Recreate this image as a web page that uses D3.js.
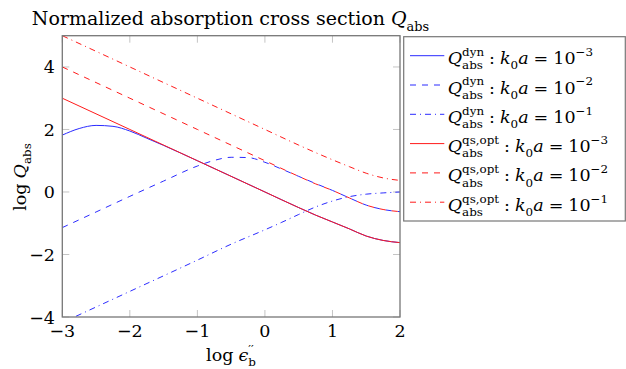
<!DOCTYPE html>
<html>
<head>
<meta charset="utf-8">
<script src="https://cdn.jsdelivr.net/npm/d3@7"></script>
<style>
  body { margin: 0; background: #fff; }
  svg { display: block; }
  text { white-space: pre; }
</style>
</head>
<body>
<svg id="chart" width="626" height="369"></svg>
<script>
"use strict";

// valeurs (log eps'' -> log Q)
var xTicks = [-3, -2, -1, 0, 1, 2];
var yTicks = [-4, -2, 0, 2, 4];

var xDynSolid = [-3, -2.75, -2.5, -2.25, -2, -1.75, -1.5, -1, 0, 0.5, 0.75, 1, 1.25, 1.5, 1.75, 2];
var yDynSolid = [1.82, 2.03, 2.13, 2.1, 1.95, 1.72, 1.49, 1.0, 0, -0.5, -0.74, -0.96, -1.18, -1.41, -1.55, -1.62];

var xDynDashed = [-3, -2.5, -2, -1.5, -1, -0.75, -0.5, -0.25, 0, 0.25, 0.5, 0.75, 1, 1.25, 1.5, 1.75, 2];
var yDynDashed = [-1.14, -0.64, -0.14, 0.35, 0.83, 1.01, 1.11, 1.1, 0.95, 0.73, 0.5, 0.27, 0.05, -0.19, -0.42, -0.56, -0.63];

var xDynDashdot = [-3, -2, -1, -0.5, 0, 0.25, 0.5, 0.75, 1, 1.25, 1.5, 1.75, 2];
var yDynDashdot = [-4.18, -3.18, -2.18, -1.67, -1.21, -0.97, -0.72, -0.48, -0.29, -0.15, -0.07, -0.03, 0.0];

var xQs = [-3, -2, -1, 0, 0.5, 0.75, 1, 1.25, 1.5, 1.75, 2];
var yQsSolid = [3, 2, 1, 0, -0.5, -0.74, -0.96, -1.18, -1.41, -1.55, -1.62];
var yQsDashed = [4, 3, 2, 1, 0.5, 0.26, 0.05, -0.19, -0.42, -0.56, -0.63];
var yQsDashdot = [5, 4, 3, 2, 1.5, 1.26, 1.03, 0.81, 0.6, 0.45, 0.37];

var legendSup = ["dyn", "dyn", "dyn", "qs,opt", "qs,opt", "qs,opt"];
var legendExp = ["−3", "−2", "−1", "−3", "−2", "−1"];

var blue = "#2b2bff", red = "#ff1a1a";
var dashes = { solid: null, dashed: "6,6", dashdot: "6,4,1,4" };

var series = [
  { xs: xDynSolid,   ys: yDynSolid,   color: blue, dash: "solid" },
  { xs: xDynDashed,  ys: yDynDashed,  color: blue, dash: "dashed" },
  { xs: xDynDashdot, ys: yDynDashdot, color: blue, dash: "dashdot" },
  { xs: xQs, ys: yQsSolid,   color: red, dash: "solid" },
  { xs: xQs, ys: yQsDashed,  color: red, dash: "dashed" },
  { xs: xQs, ys: yQsDashdot, color: red, dash: "dashdot" }
];

var FONT = "DejaVu Serif";
var svg = d3.select("#chart").attr("font-family", FONT);
var pLeft = 62.3, pRight = 400, pTop = 35.7, pBottom = 317;
var FS = 17.5;

var x = d3.scaleLinear().domain([-3, 2]).range([pLeft, pRight]);
var y = d3.scaleLinear().domain([-4, 5]).range([pBottom, pTop]);

/**
 * Ecrit une petite formule (italique, exposant, indice) et renvoie le groupe et sa largeur.
 */
function mathText(parent, pieces, size) {
  var g = parent.append("g");
  var cx = 0;
  pieces.forEach(function(p) {
    if (p.t) {
      var t = g.append("text").attr("x", cx).attr("y", 0).attr("font-family", FONT)
        .attr("font-size", size).attr("font-style", p.it ? "italic" : "normal").text(p.t);
      cx += t.node().getComputedTextLength();
    }
    if (p.sup || p.sub) {
      var w = 0;
      if (p.sup) {
        var s = g.append("text").attr("x", cx).attr("y", -0.46 * size).attr("font-family", FONT)
          .attr("font-size", size * 0.68).text(p.sup);
        w = Math.max(w, s.node().getComputedTextLength());
      }
      if (p.sub) {
        var b = g.append("text").attr("x", cx).attr("y", 0.3 * size).attr("font-family", FONT)
          .attr("font-size", size * 0.68).text(p.sub);
        w = Math.max(w, b.node().getComputedTextLength());
      }
      cx += w;
    }
    if (p.gap) cx += p.gap;
  });
  return { g: g, w: cx };
}

// titre
var title = mathText(svg, [{ t: "Normalized absorption cross section" }, { gap: 6 }, { t: "Q", it: true }, { sub: "abs" }], 19);
title.g.attr("transform", "translate(" + (230.5 - title.w / 2) + ",25)");

// zone de tracé
svg.append("clipPath").attr("id", "clip").append("rect")
  .attr("x", pLeft).attr("y", pTop).attr("width", pRight - pLeft).attr("height", pBottom - pTop);

var gTicks = svg.append("g").attr("stroke", "#c4c4c4").attr("stroke-width", 1);
var tl = 7;
xTicks.forEach(function(v) {
  gTicks.append("line").attr("x1", x(v)).attr("x2", x(v)).attr("y1", pBottom).attr("y2", pBottom - tl);
  gTicks.append("line").attr("x1", x(v)).attr("x2", x(v)).attr("y1", pTop).attr("y2", pTop + tl);
});
yTicks.forEach(function(v) {
  gTicks.append("line").attr("x1", pLeft).attr("x2", pLeft + tl).attr("y1", y(v)).attr("y2", y(v));
  gTicks.append("line").attr("x1", pRight).attr("x2", pRight - tl).attr("y1", y(v)).attr("y2", y(v));
});

svg.append("g").selectAll("text").data(xTicks).enter().append("text")
  .attr("x", d => x(d)).attr("y", 337).attr("text-anchor", "middle").attr("font-size", FS)
  .attr("font-family", FONT)
  .text(d => d < 0 ? "−" + Math.abs(d) : d);
svg.append("g").selectAll("text").data(yTicks).enter().append("text")
  .attr("x", 55).attr("y", d => y(d) + 6.5).attr("text-anchor", "end").attr("font-size", FS)
  .attr("font-family", FONT)
  .text(d => d < 0 ? "−" + Math.abs(d) : d);

var line = d3.line().x(d => x(d[0])).y(d => y(d[1])).curve(d3.curveMonotoneX);
var gLines = svg.append("g").attr("clip-path", "url(#clip)");
series.forEach(function(s) {
  gLines.append("path")
    .datum(s.xs.map((v, i) => [v, s.ys[i]]))
    .attr("d", line)
    .attr("fill", "none")
    .attr("stroke", s.color)
    .attr("stroke-width", 1)
    .attr("stroke-dasharray", dashes[s.dash]);
});

svg.append("rect").attr("x", pLeft).attr("y", pTop).attr("width", pRight - pLeft).attr("height", pBottom - pTop)
  .attr("fill", "none").attr("stroke", "#777").attr("stroke-width", 1.3);

// titres des axes
var xl = mathText(svg, [{ t: "log" }, { gap: 5 }, { t: "ϵ", it: true }, { sup: "′′", sub: "b" }], FS);
xl.g.attr("transform", "translate(" + (231 - xl.w / 2) + ",361)");
var yl = mathText(svg, [{ t: "log" }, { gap: 5 }, { t: "Q", it: true }, { sub: "abs" }], FS);
yl.g.attr("transform", "translate(26," + (177 + yl.w / 2) + ") rotate(-90)");

// légende
svg.append("rect").attr("x", 403.7).attr("y", 36.7).attr("width", 221.6).attr("height", 184.3)
  .attr("fill", "#fff").attr("stroke", "#777").attr("stroke-width", 1.2);
series.forEach(function(s, i) {
  var ry = 55.7 + i * 29.3;
  svg.append("line").attr("x1", 410).attr("x2", 444.3).attr("y1", ry).attr("y2", ry)
    .attr("stroke", s.color).attr("stroke-width", 1).attr("stroke-dasharray", dashes[s.dash]);
  var lab = mathText(svg, [
    { t: "Q", it: true }, { sup: legendSup[i], sub: "abs" }, { gap: 5 }, { t: ":" }, { gap: 5 },
    { t: "k", it: true }, { sub: "0" }, { t: "a", it: true }, { gap: 5 }, { t: "=" }, { gap: 5 },
    { t: "10" }, { sup: legendExp[i] }
  ], FS);
  lab.g.attr("transform", "translate(447.7," + (ry + 8.5) + ")");
});
</script>
</body>
</html>
